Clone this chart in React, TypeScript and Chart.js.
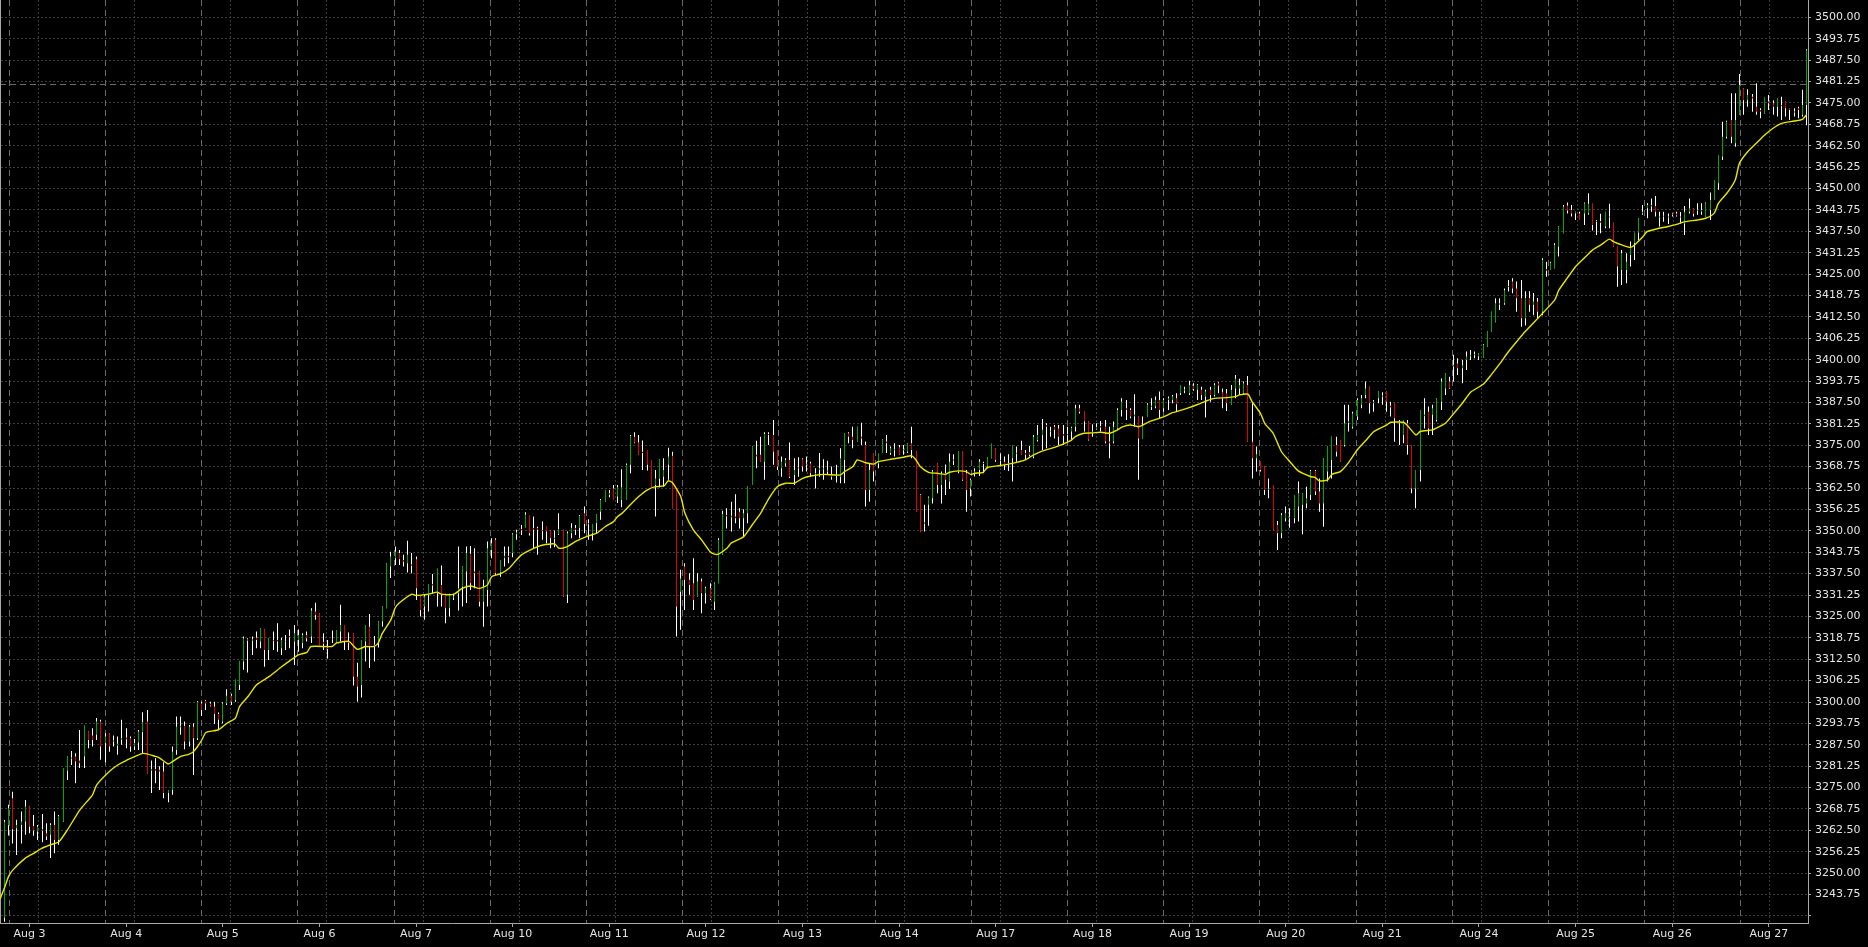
import React, { useEffect, useRef } from 'react';
import { Chart, registerables } from 'chart.js';

Chart.register(...registerables);

// ---- hourly OHLC bars, index 0 = Sunday evening before Aug 3 ----
const OPEN = [
  3237.0, 3264.0, 3271.9, 3263.1, 3264.1, 3265.1, 3269.5, 3263.8, 3262.2, 3262.8,
  3261.7, 3261.2, 3264.1, 3259.7, 3265.1, 3279.9, 3283.4, 3284.1, 3282.9, 3284.1,
  3291.4, 3290.2, 3290.4, 3294.3, 3288.0, 3290.9, 3288.5, 3287.2, 3289.0, 3289.6,
  3289.4, 3287.0, 3288.2, 3291.2, 3294.3, 3279.9, 3280.4, 3280.2, 3279.7, 3273.4,
  3274.3, 3286.0, 3292.6, 3293.0, 3288.5, 3292.8, 3289.4, 3299.6, 3300.4, 3299.6,
  3298.7, 3296.5, 3294.3, 3299.6, 3301.8, 3300.6, 3305.0, 3311.8, 3318.3, 3317.9,
  3318.8, 3317.7, 3321.2, 3315.2, 3318.1, 3318.1, 3315.7, 3317.5, 3319.3, 3317.7,
  3318.1, 3317.2, 3319.6, 3319.1, 3326.4, 3325.9, 3317.5, 3315.9, 3318.5, 3317.4,
  3320.6, 3322.5, 3317.7, 3320.1, 3307.4, 3305.0, 3317.7, 3322.0, 3316.7, 3317.2,
  3323.5, 3327.4, 3339.6, 3342.0, 3343.5, 3341.5, 3340.5, 3340.2, 3341.7, 3330.8,
  3327.9, 3331.3, 3334.5, 3331.8, 3334.2, 3331.6, 3327.4, 3330.5, 3331.8, 3333.7,
  3338.1, 3343.3, 3338.1, 3338.1, 3329.3, 3332.7, 3344.4, 3347.4, 3337.8, 3342.0,
  3342.7, 3343.5, 3349.0, 3350.5, 3350.8, 3354.6, 3350.8, 3350.8, 3350.2, 3351.4,
  3350.0, 3347.6, 3349.0, 3350.3, 3331.3, 3349.3, 3350.8, 3350.8, 3355.1, 3352.2,
  3349.3, 3352.2, 3355.6, 3358.5, 3360.5, 3362.4, 3360.0, 3359.0, 3359.0, 3369.3,
  3377.5, 3375.8, 3373.1, 3373.6, 3370.7, 3363.4, 3365.2, 3365.8, 3369.3, 3371.9,
  3362.4, 3332.2, 3339.6, 3335.7, 3334.7, 3330.8, 3335.2, 3331.8, 3333.2, 3329.3,
  3334.7, 3343.0, 3354.6, 3354.0, 3354.2, 3355.6, 3353.7, 3355.1, 3363.4, 3372.2,
  3372.2, 3370.2, 3378.3, 3378.0, 3373.6, 3368.3, 3369.7, 3370.7, 3366.3, 3368.5,
  3370.9, 3369.3, 3369.7, 3366.5, 3367.8, 3368.0, 3367.6, 3366.3, 3366.0, 3365.8,
  3370.7, 3378.5, 3377.5, 3376.1, 3377.5, 3375.1, 3361.9, 3372.7, 3369.7, 3372.7,
  3376.1, 3372.7, 3373.5, 3374.4, 3373.5, 3373.1, 3375.6, 3373.3, 3360.5, 3352.0,
  3357.6, 3359.5, 3369.7, 3363.4, 3366.8, 3364.4, 3370.5, 3367.3, 3373.3, 3366.8,
  3362.4, 3367.0, 3367.8, 3369.8, 3368.8, 3371.2, 3374.1, 3370.5, 3370.2, 3369.5,
  3371.2, 3372.5, 3373.6, 3372.7, 3373.0, 3371.7, 3376.5, 3378.0, 3380.9, 3379.0,
  3380.4, 3379.9, 3378.3, 3378.0, 3379.0, 3380.4, 3385.8, 3384.8, 3381.9, 3378.5,
  3379.7, 3380.6, 3380.4, 3376.1, 3376.1, 3379.9, 3385.3, 3385.8, 3385.3, 3383.5,
  3383.4, 3377.0, 3383.4, 3386.2, 3386.3, 3388.2, 3385.8, 3388.2, 3388.2, 3388.7,
  3390.2, 3391.0, 3390.2, 3392.4, 3391.2, 3391.2, 3389.2, 3391.2, 3389.7, 3393.1,
  3390.5, 3390.2, 3386.8, 3391.6, 3391.6, 3390.2, 3392.6, 3376.0, 3371.2, 3370.2,
  3368.8, 3362.0, 3363.4, 3351.7, 3349.3, 3353.7, 3353.7, 3353.7, 3357.1, 3357.6,
  3358.0, 3360.5, 3367.5, 3361.5, 3358.0, 3367.3, 3370.7, 3375.1, 3376.5, 3375.1,
  3381.5, 3380.4, 3383.4, 3386.8, 3389.7, 3392.1, 3387.3, 3388.7, 3389.5, 3390.7,
  3386.5, 3387.3, 3381.9, 3378.0, 3381.4, 3375.1, 3362.4, 3367.8, 3383.5, 3384.8,
  3383.9, 3382.4, 3387.7, 3391.6, 3393.6, 3398.0, 3398.9, 3397.5, 3399.9, 3401.0,
  3401.3, 3400.9, 3400.6, 3403.8, 3408.2, 3411.1, 3416.0, 3416.5, 3421.2, 3422.8,
  3420.8, 3417.9, 3412.0, 3418.0, 3416.0, 3417.0, 3414.0, 3426.5, 3426.2, 3426.7,
  3433.0, 3436.9, 3445.0, 3443.7, 3442.7, 3442.7, 3442.7, 3442.7, 3445.5, 3440.2,
  3440.5, 3438.9, 3441.5, 3440.0, 3433.0, 3426.2, 3426.2, 3430.6, 3434.0, 3437.1,
  3442.7, 3444.2, 3444.7, 3444.9, 3441.5, 3442.0, 3441.5, 3442.7, 3442.7, 3441.5,
  3439.8, 3443.2, 3444.2, 3443.5, 3443.2, 3441.8, 3443.7, 3446.6, 3451.5, 3459.3,
  3465.1, 3470.0, 3463.2, 3471.5, 3479.3, 3475.8, 3476.8, 3473.9, 3472.9, 3471.9,
  3475.4, 3474.9, 3473.9, 3474.0, 3475.4, 3473.4, 3472.5, 3473.4, 3471.5, 3474.4,
];

const HIGH = [
  3265.5, 3270.0, 3273.8, 3265.6, 3268.0, 3271.4, 3269.5, 3267.0, 3264.1, 3267.3,
  3264.6, 3264.6, 3268.0, 3267.0, 3280.7, 3284.1, 3285.7, 3285.0, 3291.8, 3293.3,
  3291.4, 3292.3, 3295.3, 3294.8, 3290.9, 3290.9, 3290.2, 3289.9, 3294.8, 3292.3,
  3289.9, 3289.2, 3291.8, 3297.0, 3297.7, 3282.9, 3283.6, 3281.2, 3282.4, 3274.3,
  3287.0, 3295.8, 3295.8, 3294.3, 3293.3, 3293.8, 3300.3, 3300.1, 3300.6, 3300.1,
  3300.1, 3296.9, 3299.9, 3303.7, 3302.4, 3306.5, 3311.8, 3319.1, 3318.6, 3319.1,
  3320.6, 3321.5, 3321.2, 3318.6, 3320.6, 3323.0, 3318.8, 3319.6, 3321.2, 3322.5,
  3321.2, 3320.1, 3320.6, 3327.4, 3329.0, 3325.9, 3320.1, 3318.1, 3320.9, 3320.9,
  3328.4, 3322.5, 3320.3, 3320.1, 3311.5, 3318.0, 3322.5, 3325.7, 3319.3, 3323.6,
  3327.9, 3340.5, 3343.9, 3345.4, 3344.4, 3343.0, 3347.1, 3343.5, 3342.5, 3330.8,
  3331.3, 3334.5, 3337.4, 3338.9, 3339.9, 3331.6, 3331.6, 3331.6, 3345.4, 3339.6,
  3345.4, 3345.6, 3344.9, 3338.1, 3335.7, 3346.9, 3347.8, 3347.8, 3341.5, 3345.4,
  3345.4, 3349.3, 3350.3, 3351.7, 3355.4, 3354.6, 3354.2, 3351.2, 3352.7, 3351.4,
  3350.0, 3350.1, 3355.1, 3350.3, 3349.8, 3352.2, 3351.7, 3354.6, 3357.1, 3353.4,
  3352.0, 3354.8, 3359.3, 3361.9, 3361.9, 3363.4, 3363.4, 3368.0, 3369.7, 3378.0,
  3378.8, 3378.0, 3376.4, 3373.6, 3370.7, 3367.8, 3370.9, 3371.2, 3374.3, 3373.1,
  3362.4, 3338.6, 3340.5, 3337.6, 3342.0, 3337.6, 3336.1, 3333.7, 3334.7, 3334.9,
  3347.8, 3355.9, 3356.6, 3358.5, 3360.7, 3356.6, 3356.3, 3363.1, 3374.6, 3376.3,
  3377.5, 3378.8, 3378.8, 3382.4, 3373.6, 3371.7, 3371.2, 3375.8, 3371.2, 3371.5,
  3371.2, 3371.7, 3370.2, 3368.3, 3372.7, 3370.9, 3370.5, 3368.8, 3369.3, 3374.1,
  3378.5, 3378.8, 3380.4, 3380.4, 3381.6, 3376.1, 3369.7, 3372.7, 3372.5, 3376.7,
  3378.0, 3374.6, 3375.6, 3375.1, 3375.1, 3375.6, 3380.4, 3373.3, 3360.7, 3357.6,
  3360.0, 3367.8, 3369.7, 3367.3, 3369.4, 3372.6, 3372.4, 3373.3, 3373.3, 3367.8,
  3365.3, 3368.3, 3370.9, 3370.2, 3371.4, 3375.4, 3374.1, 3372.6, 3371.7, 3372.4,
  3375.1, 3374.6, 3376.3, 3373.6, 3374.8, 3378.0, 3380.9, 3382.7, 3381.4, 3380.4,
  3380.9, 3380.9, 3380.9, 3380.4, 3380.4, 3386.8, 3386.8, 3384.8, 3381.9, 3381.1,
  3381.4, 3382.1, 3382.4, 3380.4, 3381.9, 3385.8, 3388.7, 3388.2, 3385.8, 3389.9,
  3383.4, 3383.4, 3387.3, 3388.7, 3389.2, 3390.7, 3388.7, 3389.2, 3389.7, 3390.2,
  3392.6, 3392.1, 3393.8, 3393.1, 3392.8, 3392.1, 3391.2, 3392.1, 3393.1, 3393.4,
  3391.6, 3391.4, 3392.6, 3395.5, 3394.4, 3393.6, 3395.2, 3387.3, 3374.6, 3370.2,
  3368.8, 3365.3, 3363.4, 3352.9, 3355.1, 3357.1, 3356.6, 3360.5, 3364.4, 3361.0,
  3362.9, 3367.8, 3367.8, 3365.3, 3371.2, 3374.6, 3377.5, 3377.5, 3376.5, 3386.8,
  3386.8, 3384.8, 3388.7, 3389.7, 3393.6, 3392.1, 3388.2, 3390.7, 3390.5, 3390.7,
  3387.7, 3387.3, 3382.4, 3382.4, 3382.4, 3375.1, 3367.8, 3385.3, 3388.7, 3386.3,
  3386.8, 3388.7, 3394.5, 3396.0, 3395.0, 3401.4, 3400.4, 3399.9, 3402.4, 3402.8,
  3402.4, 3401.9, 3404.5, 3408.2, 3414.0, 3417.9, 3417.9, 3420.8, 3423.3, 3423.8,
  3422.8, 3423.3, 3420.0, 3420.0, 3419.5, 3418.0, 3429.6, 3428.6, 3428.6, 3434.0,
  3439.0, 3445.2, 3445.9, 3445.2, 3443.2, 3443.2, 3445.9, 3448.6, 3445.5, 3440.8,
  3442.6, 3443.2, 3445.5, 3440.0, 3433.0, 3432.0, 3431.1, 3434.5, 3437.1, 3441.3,
  3445.2, 3445.7, 3447.1, 3447.8, 3443.2, 3443.2, 3442.7, 3442.9, 3443.2, 3443.1,
  3444.9, 3447.1, 3444.2, 3445.7, 3445.7, 3445.9, 3448.8, 3452.5, 3459.8, 3469.5,
  3469.8, 3477.8, 3477.8, 3483.4, 3479.3, 3479.0, 3477.6, 3480.7, 3473.4, 3476.5,
  3477.3, 3475.8, 3476.3, 3476.8, 3475.4, 3473.4, 3473.4, 3473.9, 3478.8, 3490.7,
];

const LOW = [
  3235.8, 3261.0, 3258.7, 3255.3, 3258.7, 3261.2, 3261.7, 3260.9, 3259.7, 3259.0,
  3259.7, 3254.4, 3255.8, 3258.3, 3265.0, 3277.2, 3281.6, 3276.3, 3280.7, 3280.7,
  3286.5, 3287.0, 3288.9, 3283.1, 3282.3, 3285.5, 3287.0, 3284.6, 3287.5, 3286.5,
  3285.5, 3286.0, 3286.0, 3285.0, 3279.2, 3273.4, 3276.3, 3274.3, 3271.9, 3270.7,
  3272.9, 3284.6, 3290.4, 3286.2, 3287.0, 3278.7, 3288.9, 3295.9, 3297.7, 3298.7,
  3293.6, 3291.8, 3293.8, 3299.1, 3299.1, 3300.1, 3303.5, 3309.4, 3308.6, 3313.7,
  3315.7, 3315.7, 3310.3, 3312.3, 3315.2, 3314.7, 3313.7, 3315.2, 3315.7, 3310.8,
  3314.7, 3315.7, 3317.7, 3317.2, 3324.0, 3316.2, 3315.2, 3312.6, 3317.2, 3317.2,
  3317.7, 3315.2, 3315.2, 3304.8, 3300.1, 3301.3, 3311.8, 3309.9, 3311.8, 3315.9,
  3322.0, 3327.4, 3336.2, 3340.0, 3340.0, 3339.6, 3337.8, 3337.6, 3329.8, 3325.0,
  3324.0, 3326.4, 3331.8, 3327.9, 3327.9, 3323.0, 3325.0, 3329.8, 3326.7, 3327.9,
  3328.9, 3332.7, 3333.2, 3327.9, 3322.0, 3327.9, 3342.0, 3337.1, 3336.6, 3339.6,
  3340.5, 3342.3, 3347.4, 3348.8, 3350.8, 3348.6, 3344.9, 3343.0, 3347.4, 3346.4,
  3344.9, 3345.2, 3348.8, 3330.8, 3328.9, 3347.8, 3348.8, 3347.8, 3349.3, 3347.4,
  3347.2, 3349.3, 3353.2, 3358.5, 3359.8, 3359.0, 3358.1, 3356.9, 3359.0, 3366.8,
  3375.6, 3372.2, 3367.8, 3367.6, 3362.9, 3354.2, 3362.7, 3362.9, 3364.9, 3356.6,
  3319.1, 3321.1, 3326.9, 3331.3, 3326.9, 3330.8, 3325.9, 3328.8, 3329.8, 3326.9,
  3334.7, 3343.0, 3350.7, 3349.8, 3352.2, 3350.7, 3348.3, 3352.2, 3363.4, 3368.3,
  3370.2, 3364.9, 3375.1, 3369.3, 3367.8, 3365.8, 3368.8, 3365.4, 3363.4, 3365.8,
  3367.3, 3367.3, 3365.8, 3362.4, 3365.8, 3364.9, 3366.3, 3364.9, 3364.1, 3363.9,
  3363.9, 3375.6, 3374.1, 3376.1, 3375.1, 3357.1, 3358.5, 3364.4, 3368.3, 3372.7,
  3372.7, 3372.2, 3371.7, 3372.2, 3372.2, 3372.7, 3371.2, 3355.6, 3349.8, 3349.8,
  3351.5, 3358.0, 3361.0, 3358.0, 3360.5, 3362.2, 3369.2, 3366.8, 3364.6, 3355.6,
  3360.0, 3365.9, 3366.0, 3366.8, 3368.3, 3371.2, 3370.2, 3368.8, 3367.8, 3367.5,
  3364.4, 3370.2, 3372.2, 3370.7, 3371.7, 3371.2, 3376.1, 3373.6, 3374.1, 3377.5,
  3377.0, 3375.1, 3375.1, 3376.1, 3376.6, 3379.0, 3384.3, 3379.0, 3376.4, 3377.5,
  3379.5, 3379.0, 3375.6, 3371.2, 3375.6, 3379.5, 3383.4, 3382.4, 3382.9, 3380.4,
  3364.9, 3377.0, 3383.4, 3385.3, 3385.8, 3382.9, 3384.8, 3385.3, 3387.3, 3384.8,
  3389.7, 3390.2, 3389.7, 3390.9, 3388.2, 3388.2, 3383.1, 3387.7, 3389.2, 3390.2,
  3385.8, 3385.0, 3386.8, 3388.7, 3389.7, 3389.9, 3376.0, 3365.3, 3367.3, 3367.3,
  3360.5, 3359.5, 3350.3, 3344.4, 3347.8, 3352.7, 3350.9, 3352.2, 3352.7, 3349.0,
  3356.6, 3359.0, 3360.5, 3355.6, 3351.2, 3364.4, 3365.3, 3371.7, 3370.2, 3374.6,
  3379.0, 3379.9, 3382.4, 3385.8, 3388.7, 3384.3, 3384.8, 3387.3, 3386.8, 3384.8,
  3383.4, 3376.0, 3375.1, 3375.6, 3372.2, 3361.0, 3356.6, 3364.4, 3379.9, 3378.0,
  3378.0, 3381.9, 3385.3, 3389.7, 3391.4, 3393.6, 3395.5, 3393.1, 3397.0, 3399.9,
  3400.4, 3399.9, 3400.6, 3403.8, 3408.2, 3410.9, 3414.5, 3416.0, 3419.9, 3419.4,
  3414.0, 3409.6, 3410.0, 3414.0, 3413.0, 3412.0, 3413.0, 3424.2, 3426.2, 3426.7,
  3430.1, 3436.9, 3442.7, 3441.8, 3440.8, 3440.8, 3439.3, 3442.3, 3437.7, 3436.4,
  3436.9, 3438.4, 3438.4, 3433.0, 3421.3, 3421.8, 3422.3, 3427.2, 3429.1, 3434.9,
  3442.3, 3441.3, 3443.2, 3441.8, 3438.9, 3440.3, 3439.6, 3441.8, 3441.8, 3439.8,
  3436.4, 3442.7, 3441.8, 3442.3, 3442.3, 3441.8, 3440.8, 3446.6, 3449.6, 3458.3,
  3464.6, 3463.2, 3462.2, 3471.5, 3471.5, 3473.9, 3472.4, 3471.5, 3470.5, 3471.9,
  3472.9, 3471.5, 3471.0, 3470.0, 3471.0, 3470.0, 3471.0, 3470.5, 3471.0, 3468.5,
];

const CLOSE = [
  3265.0, 3269.0, 3262.8, 3264.1, 3265.1, 3269.5, 3263.6, 3262.5, 3263.6, 3262.4,
  3260.7, 3264.1, 3259.7, 3266.7, 3280.7, 3284.1, 3283.8, 3282.6, 3282.1, 3293.3,
  3288.9, 3288.9, 3294.3, 3287.0, 3289.9, 3287.0, 3288.8, 3287.8, 3289.4, 3289.1,
  3287.0, 3288.0, 3291.4, 3294.1, 3279.2, 3280.4, 3279.9, 3279.7, 3273.4, 3274.3,
  3285.5, 3292.8, 3292.9, 3288.5, 3292.8, 3289.4, 3300.1, 3297.7, 3299.6, 3298.9,
  3296.5, 3294.8, 3299.6, 3301.8, 3300.1, 3306.5, 3311.8, 3318.6, 3317.9, 3318.3,
  3318.1, 3321.5, 3315.2, 3318.6, 3317.9, 3317.7, 3318.1, 3317.7, 3318.9, 3320.1,
  3319.6, 3319.6, 3318.6, 3326.7, 3325.4, 3316.2, 3317.0, 3315.5, 3318.3, 3320.9,
  3322.5, 3317.7, 3317.3, 3307.4, 3304.5, 3318.0, 3322.5, 3316.2, 3316.2, 3323.6,
  3327.9, 3340.5, 3342.5, 3343.9, 3341.7, 3341.0, 3343.0, 3339.8, 3333.2, 3326.9,
  3330.8, 3334.5, 3334.0, 3338.9, 3331.3, 3327.4, 3331.6, 3330.8, 3333.2, 3339.6,
  3343.5, 3334.7, 3337.6, 3329.3, 3333.7, 3344.9, 3346.4, 3337.6, 3341.5, 3342.7,
  3342.3, 3349.0, 3349.5, 3350.1, 3354.8, 3349.3, 3350.3, 3350.3, 3349.9, 3349.8,
  3347.8, 3348.0, 3350.5, 3331.0, 3349.3, 3350.9, 3350.3, 3354.4, 3352.0, 3351.9,
  3352.0, 3354.8, 3359.0, 3361.9, 3361.0, 3359.0, 3362.7, 3362.7, 3369.3, 3377.7,
  3375.8, 3372.2, 3372.7, 3369.3, 3362.9, 3365.3, 3370.9, 3367.8, 3371.7, 3356.6,
  3327.9, 3336.1, 3335.7, 3334.2, 3329.8, 3335.2, 3331.8, 3333.2, 3330.0, 3334.7,
  3347.3, 3354.9, 3354.2, 3354.4, 3353.7, 3353.7, 3355.1, 3363.1, 3374.6, 3371.7,
  3370.2, 3378.3, 3378.0, 3373.1, 3368.8, 3370.2, 3370.7, 3365.8, 3367.8, 3368.3,
  3368.8, 3369.6, 3366.8, 3366.8, 3368.3, 3368.2, 3367.3, 3365.8, 3366.3, 3371.2,
  3378.5, 3377.5, 3376.5, 3380.4, 3377.0, 3361.9, 3367.8, 3367.3, 3372.5, 3376.5,
  3375.6, 3374.1, 3373.8, 3372.2, 3373.8, 3375.6, 3373.6, 3355.6, 3349.8, 3352.5,
  3359.7, 3367.3, 3363.4, 3366.8, 3364.9, 3370.2, 3370.8, 3373.3, 3364.9, 3361.9,
  3364.9, 3367.3, 3370.2, 3369.5, 3371.4, 3375.4, 3370.7, 3370.7, 3369.2, 3369.8,
  3375.1, 3372.8, 3372.2, 3372.2, 3372.2, 3377.5, 3378.0, 3379.5, 3380.4, 3379.2,
  3379.5, 3377.5, 3377.8, 3378.3, 3380.1, 3385.8, 3384.8, 3381.9, 3376.6, 3379.0,
  3380.4, 3380.2, 3376.1, 3375.6, 3380.4, 3385.3, 3387.7, 3385.3, 3383.4, 3384.0,
  3377.0, 3380.9, 3386.8, 3386.5, 3388.2, 3385.3, 3388.2, 3388.7, 3389.2, 3387.0,
  3392.6, 3391.3, 3392.6, 3391.4, 3392.6, 3389.7, 3390.7, 3389.7, 3392.6, 3392.4,
  3388.7, 3387.3, 3391.1, 3394.4, 3392.6, 3393.1, 3376.0, 3371.2, 3372.4, 3367.8,
  3361.9, 3362.3, 3350.3, 3349.3, 3354.6, 3355.1, 3354.1, 3360.5, 3361.0, 3361.0,
  3359.5, 3367.5, 3361.5, 3358.0, 3371.2, 3374.6, 3377.5, 3373.1, 3370.2, 3381.4,
  3382.0, 3384.3, 3388.2, 3388.7, 3391.6, 3387.3, 3387.8, 3390.7, 3389.2, 3387.7,
  3386.0, 3382.9, 3381.4, 3382.4, 3375.1, 3362.4, 3367.8, 3385.3, 3384.0, 3379.9,
  3385.8, 3388.7, 3393.6, 3396.0, 3391.6, 3398.5, 3397.5, 3398.4, 3400.9, 3401.3,
  3401.6, 3401.9, 3404.3, 3408.2, 3414.0, 3416.5, 3416.5, 3420.3, 3421.5, 3420.8,
  3417.9, 3412.1, 3418.0, 3416.0, 3417.0, 3414.0, 3429.1, 3426.0, 3428.3, 3433.5,
  3438.9, 3444.7, 3443.6, 3442.7, 3443.2, 3440.8, 3445.7, 3445.5, 3439.3, 3440.6,
  3440.0, 3443.2, 3441.8, 3433.0, 3427.2, 3431.1, 3428.6, 3433.0, 3437.1, 3441.3,
  3443.2, 3445.2, 3445.2, 3443.2, 3441.8, 3441.8, 3441.8, 3442.3, 3442.1, 3441.8,
  3443.2, 3444.2, 3442.6, 3443.8, 3443.7, 3445.7, 3446.6, 3452.5, 3459.8, 3465.1,
  3469.5, 3465.1, 3470.0, 3480.2, 3475.8, 3477.3, 3476.3, 3472.4, 3472.4, 3476.5,
  3474.9, 3473.9, 3476.3, 3474.4, 3473.4, 3472.9, 3472.2, 3472.9, 3474.4, 3490.4,
];

// ---- moving average (bar index, price) ----
const MA_X = [
  -1, 0, 1, 2, 5, 7, 9, 11, 13, 15, 18, 21, 22, 25, 27, 29, 33, 36, 37, 39, 40, 42, 44, 45, 46, 47, 48, 51, 53, 55,
  56, 58, 60, 63, 66, 68, 70, 72, 73, 78, 79, 82, 84, 86, 88, 89, 90, 92, 93, 94, 97, 98, 101, 103, 104, 107, 109,
  111, 113, 115, 116, 118, 120, 123, 126, 128, 131, 132, 134, 136, 139, 141, 143, 145, 146, 147, 149, 151, 153, 155,
  157, 158, 159, 161, 162, 164, 166, 168, 169, 170, 172, 173, 176, 178, 180, 182, 184, 186, 188, 190, 192, 195, 199,
  200, 202, 203, 205, 207, 208, 211, 214, 216, 217, 218, 220, 222, 224, 225, 227, 229, 230, 231, 233, 234, 237, 239,
  241, 243, 245, 247, 250, 252, 254, 255, 257, 259, 261, 263, 265, 266, 268, 270, 271, 273, 275, 277, 278, 279, 282,
  284, 286, 288, 291, 293, 294, 296, 297, 299, 300, 302, 304, 306, 308, 311, 312, 313, 315, 316, 318, 320, 322, 324,
  326, 329, 330, 333, 334, 336, 337, 340, 341, 343, 345, 347, 349, 352, 354, 356, 358, 360, 362, 369, 370, 372, 374,
  376, 378, 380, 382, 383, 385, 387, 388, 390, 391, 393, 396, 398, 400, 403, 405, 407, 408, 410, 412, 413, 415, 417,
  419, 421, 423, 426, 428, 429,
];
const MA_Y = [
  3242.5, 3245.6, 3249.0, 3250.9, 3254.4, 3255.8, 3257.3, 3258.3, 3259.2, 3262.6, 3268.5, 3272.9, 3275.8, 3279.7,
  3281.6, 3282.9, 3285.0, 3284.1, 3283.6, 3281.9, 3282.6, 3284.1, 3284.8, 3285.5, 3287.0, 3288.9, 3291.1, 3291.9,
  3293.8, 3295.3, 3298.7, 3301.6, 3305.0, 3307.4, 3310.3, 3312.1, 3313.8, 3314.5, 3316.2, 3316.2, 3317.2, 3317.7,
  3315.4, 3316.2, 3316.2, 3317.2, 3320.1, 3324.0, 3327.4, 3328.9, 3331.5, 3331.1, 3331.5, 3332.1, 3331.5, 3331.5,
  3333.2, 3333.9, 3333.2, 3334.2, 3336.6, 3337.4, 3338.9, 3342.9, 3344.9, 3345.8, 3346.2, 3344.9, 3345.4, 3346.9,
  3348.5, 3349.3, 3351.2, 3352.7, 3354.2, 3355.1, 3357.6, 3360.0, 3361.9, 3362.9, 3363.1, 3364.6, 3364.1, 3360.0,
  3355.1, 3350.3, 3347.3, 3343.9, 3343.2, 3343.2, 3344.9, 3346.4, 3348.3, 3351.7, 3355.1, 3359.5, 3362.9, 3363.9,
  3363.9, 3365.3, 3366.0, 3366.5, 3366.3, 3367.3, 3368.8, 3370.7, 3369.9, 3369.5, 3370.2, 3370.9, 3371.5, 3371.9,
  3370.7, 3368.8, 3367.1, 3366.8, 3366.5, 3367.1, 3367.5, 3367.3, 3366.5, 3366.8, 3367.1, 3368.5, 3369.1, 3369.5,
  3370.0, 3370.7, 3372.2, 3373.3, 3374.4, 3375.3, 3376.5, 3377.6, 3378.5, 3378.6, 3378.8, 3378.5, 3379.5, 3380.3,
  3380.9, 3380.4, 3380.9, 3382.1, 3382.9, 3383.9, 3384.5, 3384.8, 3386.0, 3386.9, 3387.9, 3388.7, 3388.9, 3389.2,
  3389.7, 3389.9, 3387.7, 3384.3, 3381.4, 3378.5, 3373.1, 3370.2, 3367.5, 3365.8, 3365.6, 3364.6, 3364.9, 3366.5,
  3367.3, 3370.0, 3373.6, 3376.3, 3379.0, 3380.9, 3381.7, 3381.7, 3380.7, 3378.0, 3379.0, 3379.5, 3380.1, 3381.4,
  3384.3, 3387.2, 3390.5, 3392.8, 3395.7, 3398.9, 3402.3, 3405.3, 3408.2, 3417.4, 3420.3, 3423.8, 3427.2, 3429.6,
  3432.0, 3433.5, 3435.2, 3434.5, 3433.5, 3432.8, 3433.5, 3435.9, 3437.4, 3438.1, 3438.9, 3439.5, 3440.3, 3440.8,
  3441.3, 3442.8, 3445.7, 3448.6, 3452.5, 3457.4, 3460.8, 3463.2, 3465.6, 3467.6, 3469.0, 3469.7, 3470.2, 3471.6,
];

// ---- axis labels ----
const DAY_LABELS = [
  'Aug 3', 'Aug 4', 'Aug 5', 'Aug 6', 'Aug 7', 'Aug 10', 'Aug 11', 'Aug 12', 'Aug 13', 'Aug 14',
  'Aug 17', 'Aug 18', 'Aug 19', 'Aug 20', 'Aug 21', 'Aug 24', 'Aug 25', 'Aug 26', 'Aug 27',
];
const DAY_START = [6, 29, 52, 75, 98, 121, 144, 167, 190, 213, 236, 259, 282, 305, 328, 351, 374, 397, 420];
const PRICE_TICKS = [
  3237.5, 3243.75, 3250.0, 3256.25, 3262.5, 3268.75, 3275.0, 3281.25, 3287.5, 3293.75, 3300.0, 3306.25,
  3312.5, 3318.75, 3325.0, 3331.25, 3337.5, 3343.75, 3350.0, 3356.25, 3362.5, 3368.75, 3375.0, 3381.25,
  3387.5, 3393.75, 3400.0, 3406.25, 3412.5, 3418.75, 3425.0, 3431.25, 3437.5, 3443.75, 3450.0, 3456.25,
  3462.5, 3468.75, 3475.0, 3481.25, 3487.5, 3493.75, 3500.0,
];
const MARKER_LEVEL = 3480.5;

// ---- layout / style constants ----
const W = 1868;
const H = 947;
const X_MIN = -1.0235;
const X_MAX = 429.31;
const Y_MIN = 3235.45;
const Y_MAX = 3505.05;
const GRID_PERIOD = 22.897;
const DOT_GRID = Array.from({ length: 19 }, (_, k) => 8.09 + GRID_PERIOD * k);
const DASH_GRID = Array.from({ length: 19 }, (_, k) => 1.19 + GRID_PERIOD * k);
const FONT = { family: 'DejaVu Sans', size: 11 };
const TEXT = '#e4e4e4';
const AXIS = '#a8a8a8';
const DOT = '#3e3e3e';
const DASH = '#6a6a6a';
const BULL = '#00a800';
const BEAR = '#e00000';
const WICK = '#ffffff';
const MA_COLOR = '#e6e600';

function noPad(s: any) {
  s.paddingTop = 0;
  s.paddingBottom = 0;
  s.paddingLeft = 0;
  s.paddingRight = 0;
}

function helper(position: string, axis: 'x' | 'y', min: number, max: number, ticks: number[], color: string, dash: number[], border = false) {
  return {
    type: 'linear',
    axis,
    position,
    min,
    max,
    bounds: 'data',
    offset: false,
    afterBuildTicks: (s: any) => {
      s.ticks = ticks.map((v) => ({ value: v }));
    },
    afterFit: (s: any) => {
      if (axis === 'x') s.height = 0;
      else s.width = 0;
      noPad(s);
    },
    ticks: { display: false },
    grid: { display: true, drawOnChartArea: true, drawTicks: false, color, lineWidth: 1, offset: false },
    border: { display: border, color: AXIS, width: 1, dash },
  };
}

// snap the 1px bars onto whole pixel columns so they stay crisp
const snapBars = {
  id: 'snapBars',
  afterDatasetsUpdate(chart: any) {
    chart.data.datasets.forEach((_ds: any, di: number) => {
      const meta = chart.getDatasetMeta(di);
      if (meta.type !== 'bar') return;
      meta.data.forEach((el: any) => {
        el.x = Math.floor(el.x) + 0.5;
      });
    });
  },
};

export default function App() {
  const ref = useRef<HTMLCanvasElement>(null);

  useEffect(() => {
    document.body.style.margin = '0';
    document.body.style.background = '#000';
    const canvas = ref.current;
    if (!canvas) return;

    const wick = OPEN.map((_, i) => ({ x: i, y: [LOW[i], HIGH[i]] }));
    const body = OPEN.map((o, i) => ({ x: i, y: [o, CLOSE[i]] }));
    const bodyColors = OPEN.map((o, i) => (CLOSE[i] >= o ? BULL : BEAR));
    const ma = MA_X.map((x, k) => ({ x, y: MA_Y[k] }));

    const chart = new Chart(canvas, {
      type: 'bar',
      plugins: [snapBars],
      data: {
        datasets: [
          {
            type: 'line',
            data: ma,
            borderColor: MA_COLOR,
            borderWidth: 1.4,
            pointRadius: 0,
            tension: 0.2,
            order: 0,
            xAxisID: 'x',
            yAxisID: 'y',
          } as any,
          {
            type: 'bar',
            data: body,
            backgroundColor: bodyColors,
            barThickness: 1,
            grouped: false,
            inflateAmount: 0,
            borderWidth: 0,
            order: 1,
            xAxisID: 'x',
            yAxisID: 'y',
          } as any,
          {
            type: 'bar',
            data: wick,
            backgroundColor: WICK,
            barThickness: 1,
            grouped: false,
            inflateAmount: 0,
            borderWidth: 0,
            order: 2,
            xAxisID: 'x',
            yAxisID: 'y',
          } as any,
        ],
      },
      options: {
        responsive: false,
        maintainAspectRatio: false,
        animation: false,
        devicePixelRatio: 1,
        events: [],
        layout: { padding: 0 },
        plugins: { legend: { display: false }, tooltip: { enabled: false } },
        scales: {
          x: {
            type: 'linear',
            position: 'bottom',
            min: X_MIN,
            max: X_MAX,
            bounds: 'data',
            offset: false,
            afterBuildTicks: (s: any) => {
              s.ticks = DAY_START.map((v) => ({ value: v }));
            },
            afterFit: (s: any) => {
              s.height = 24;
              noPad(s);
            },
            ticks: {
              autoSkip: false,
              maxRotation: 0,
              minRotation: 0,
              color: TEXT,
              font: FONT,
              padding: 1,
              callback: (_v: any, idx: number) => DAY_LABELS[idx] ?? '',
            },
            grid: { display: true, drawOnChartArea: false, drawTicks: true, tickLength: 4, color: AXIS, offset: false },
            border: { display: true, color: AXIS, width: 1 },
          },
          y: {
            type: 'linear',
            position: 'right',
            min: Y_MIN,
            max: Y_MAX,
            bounds: 'data',
            afterBuildTicks: (s: any) => {
              s.ticks = PRICE_TICKS.map((v) => ({ value: v }));
            },
            afterFit: (s: any) => {
              s.width = W - 1808;
              noPad(s);
            },
            ticks: {
              color: TEXT,
              font: FONT,
              padding: 4,
              callback: (v: any) => (Number(v) === PRICE_TICKS[0] ? '' : Number(v).toFixed(2)),
            },
            grid: { display: true, drawOnChartArea: false, drawTicks: true, tickLength: 3, color: AXIS },
            border: { display: true, color: AXIS, width: 1 },
          },
          yGrid: helper('left', 'y', Y_MIN, Y_MAX, PRICE_TICKS, DOT, [2, 2], true),
          yMark: helper('left', 'y', Y_MIN, Y_MAX, [MARKER_LEVEL], DASH, [6, 4]),
          xDot: helper('top', 'x', X_MIN, X_MAX, DOT_GRID, DOT, [2, 2]),
          xDash: helper('top', 'x', X_MIN, X_MAX, DASH_GRID, DASH, [6, 4]),
        } as any,
      },
    } as any);

    return () => chart.destroy();
  }, []);

  return (
    <div style={{ position: 'absolute', left: 0, top: 0, width: W, height: H, background: '#000' }}>
      <canvas ref={ref} width={W} height={H} style={{ display: 'block', width: W, height: H }} />
    </div>
  );
}
